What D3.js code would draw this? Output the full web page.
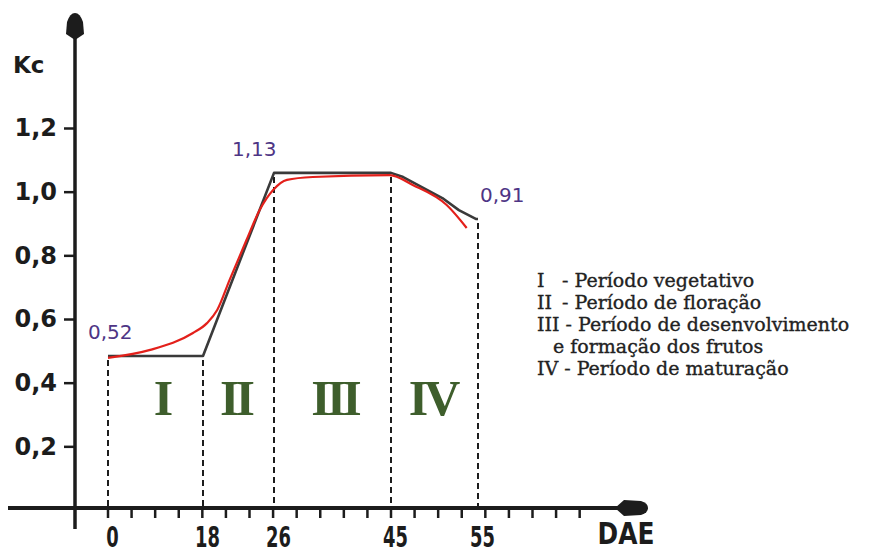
<!DOCTYPE html>
<html>
<head>
<meta charset="utf-8">
<script src="https://cdnjs.cloudflare.com/ajax/libs/d3/7.8.5/d3.min.js"></script>
<style>
  html, body { margin: 0; padding: 0; background: #fff; }
  svg { display: block; }
</style>
</head>
<body>
<svg id="chart" width="869" height="553"></svg>
<script>
// ---------------- data ----------------
const stageDays = [0, 18, 26, 45, 55];
const stageDayLabels = ["0", "18", "26", "45", "55"];
const yTickValues = [0.2, 0.4, 0.6, 0.8, 1.0, 1.2];

// Kc stage curve (black)
const kcDays   = [0, 18, 26, 45, 46.4, 50.9, 52.8, 54.8, 55];
const kcValues = [0.484, 0.484, 1.059, 1.059, 1.046, 0.980, 0.942, 0.914, 0.914];

// fitted Kc curve (red)
const fitDays   = [0, 8, 16.1, 18.45, 19.6, 21.0, 22.9, 24.4, 25.9, 28.1, 32.3, 44.8, 47.5, 51.4, 53.7];
const fitValues = [0.478, 0.503, 0.556, 0.587, 0.628, 0.723, 0.848, 0.943, 1.005, 1.037, 1.046, 1.052, 1.021, 0.958, 0.886];

// value annotations
const annotDays   = [0, 26, 55];
const annotLabels = ["0,52", "1,13", "0,91"];

// stage names
const stageNumerals = ["I", "II", "III", "IV"];
const legendNumerals = ["I", "II", "III", "", "IV"];
const legendTexts = [
  "- Período vegetativo",
  "- Período de floração",
  "- Período de desenvolvimento",
  "e formação dos frutos",
  "- Período de maturação"
];

// ---------------- layout ----------------
const svg = d3.select("#chart");
const ink = "#1c1c1c";
const axisX = 75, axisY = 508;

// figure x axis is not proportional: piecewise linear scale across stage boundaries
const x = d3.scaleLinear().domain(stageDays).range([108, 203, 274, 391, 478]);
const y = d3.scaleLinear().domain([0, 1.2]).range([510, 128]);

// ---------------- axes ----------------
// Y axis line + arrow
svg.append("line").attr("x1", axisX).attr("x2", axisX).attr("y1", 34).attr("y2", 529)
  .attr("stroke", ink).attr("stroke-width", 3.5);
svg.append("path")
  .attr("d", `M${axisX},40 L${axisX-9},34 L${axisX-8},22 Q${axisX-5},13 ${axisX},13 Q${axisX+5},13 ${axisX+8},22 L${axisX+9},34 Z`)
  .attr("fill", ink);

const yAxis = d3.axisLeft(y).tickValues(yTickValues).tickSize(11).tickPadding(7)
  .tickFormat(d => d.toFixed(1).replace(".", ","));
const gy = svg.append("g").attr("transform", `translate(${axisX},0)`).call(yAxis);
gy.select(".domain").remove();
gy.selectAll(".tick line").attr("stroke", ink).attr("stroke-width", 2.5);
gy.selectAll(".tick text")
  .attr("fill", ink)
  .style("font-family", "'DejaVu Sans', sans-serif")
  .style("font-weight", "bold")
  .style("font-size", "24px");

svg.append("text").attr("x", 13).attr("y", 73).text("Kc")
  .attr("fill", ink)
  .style("font-family", "'DejaVu Sans', sans-serif")
  .style("font-weight", "bold").style("font-size", "23px");

// X axis line + arrow
const arrowStart = 615;
svg.append("line").attr("x1", 8).attr("x2", arrowStart + 4).attr("y1", axisY).attr("y2", axisY)
  .attr("stroke", ink).attr("stroke-width", 4);
svg.append("path")
  .attr("d", `M${arrowStart},${axisY} L${arrowStart+9},${axisY-8} L${arrowStart+26},${axisY-7} Q${arrowStart+33},${axisY-5} ${arrowStart+33},${axisY} Q${arrowStart+33},${axisY+5} ${arrowStart+26},${axisY+7} L${arrowStart+9},${axisY+8} Z`)
  .attr("fill", ink);

// minor ticks along x axis (regular spacing of the drawing)
const minorStep = (x(45) - x(0)) / 12;
const minorTicks = d3.range(21).map(i => x(0) + i * minorStep);
svg.append("g").selectAll("line").data(minorTicks).join("line")
  .attr("x1", d => d).attr("x2", d => d)
  .attr("y1", axisY).attr("y2", axisY + 10)
  .attr("stroke", ink).attr("stroke-width", 2.5);

const xAxis = d3.axisBottom(x).tickValues(stageDays).tickSize(0).tickPadding(0)
  .tickFormat((d, i) => stageDayLabels[i]);
const gx = svg.append("g").attr("transform", `translate(0,${axisY})`).call(xAxis);
gx.select(".domain").remove();
gx.selectAll(".tick text")
  .attr("y", 39).attr("dy", 0)
  .attr("transform", "translate(4,0) scale(0.64,1)")
  .attr("fill", ink)
  .style("font-family", "'DejaVu Sans', sans-serif")
  .style("font-weight", "bold")
  .style("font-size", "28px");

svg.append("text")
  .attr("transform", `translate(626,544) scale(0.83,1)`)
  .attr("text-anchor", "middle")
  .attr("fill", ink)
  .style("font-family", "'DejaVu Sans', sans-serif")
  .style("font-weight", "bold").style("font-size", "30px")
  .text("DAE");

// ---------------- dashed stage boundaries ----------------
const kcAt = d => {
  const i = kcDays.indexOf(d);
  return i >= 0 ? kcValues[i] : kcValues[kcValues.length - 1];
};
svg.append("g").selectAll("line").data(stageDays).join("line")
  .attr("x1", d => x(d)).attr("x2", d => x(d))
  .attr("y1", d => y(kcAt(d)) + 4).attr("y2", axisY)
  .attr("stroke", ink).attr("stroke-width", 2)
  .attr("stroke-dasharray", "6,4");

// ---------------- curves ----------------
const kcLine = d3.line().x(d => x(d[0])).y(d => y(d[1]));
svg.append("path")
  .datum(kcDays.map((d, i) => [d, kcValues[i]]))
  .attr("d", kcLine)
  .attr("fill", "none").attr("stroke", "#3a3a3a").attr("stroke-width", 2.6)
  .attr("stroke-linejoin", "round");

const fitLine = d3.line().x(d => x(d[0])).y(d => y(d[1])).curve(d3.curveMonotoneX);
svg.append("path")
  .datum(fitDays.map((d, i) => [d, fitValues[i]]))
  .attr("d", fitLine)
  .attr("fill", "none").attr("stroke", "#e3201b").attr("stroke-width", 2.2)
  .attr("stroke-linejoin", "round");

// ---------------- annotations ----------------
const annotDx = [-20, -42, 2];
svg.append("g").selectAll("text").data(annotDays).join("text")
  .attr("x", (d, i) => x(d) + annotDx[i])
  .attr("y", d => y(kcAt(d)) - 17)
  .attr("fill", "#4e3585")
  .style("font-family", "'DejaVu Sans', sans-serif")
  .style("font-size", "20px")
  .text((d, i) => annotLabels[i]);

// stage numerals inside the chart
const numeralDx = [6, -3, 2, -2];
svg.append("g").selectAll("text").data(stageNumerals).join("text")
  .attr("x", (d, i) => (x(stageDays[i]) + x(stageDays[i + 1])) / 2 + numeralDx[i])
  .attr("y", 415)
  .attr("text-anchor", "middle")
  .attr("fill", "#3e5e2c")
  .style("font-family", "'Liberation Serif', 'Times New Roman', serif")
  .style("font-weight", "bold")
  .style("font-size", "50px")
  .style("letter-spacing", "-4px")
  .text(d => d);

// ---------------- legend ----------------
const legend = svg.append("g")
  .style("font-family", "'DejaVu Serif', serif")
  .style("font-size", "19px")
  .attr("fill", "#222")
  .attr("stroke", "#222")
  .attr("stroke-width", 0.35);
legendTexts.forEach((t, i) => {
  const yy = 287 + i * 22;
  let restX = 562;
  if (legendNumerals[i]) {
    const n = legend.append("text").attr("x", 537).attr("y", yy).text(legendNumerals[i]);
    restX = Math.max(562, 537 + n.node().getComputedTextLength() + 6);
  } else {
    restX = 553;
  }
  legend.append("text").attr("x", restX).attr("y", yy).text(t);
});
</script>
</body>
</html>
